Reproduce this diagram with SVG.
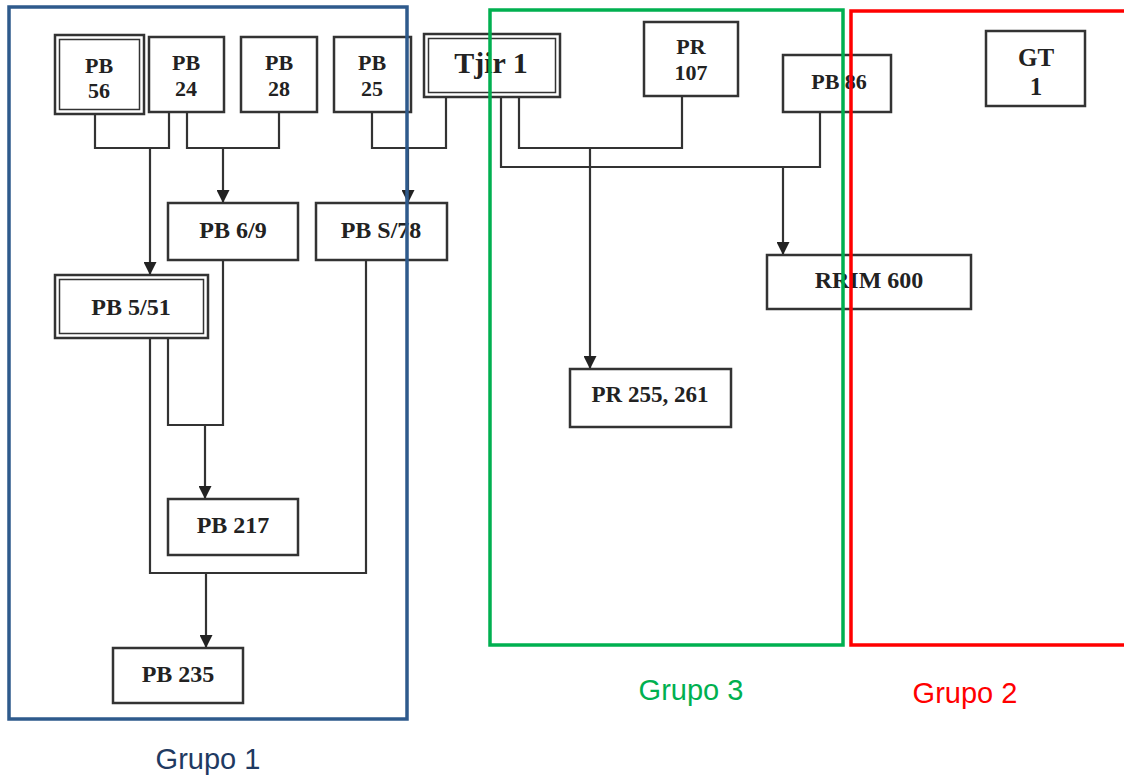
<svg xmlns="http://www.w3.org/2000/svg" width="1124" height="776" viewBox="0 0 1124 776">
<defs>
<style>
.box{fill:#fff;stroke:#333;stroke-width:2.5}
.in{fill:none;stroke:#333;stroke-width:1.5}
.t{font-family:"Liberation Serif","Times New Roman",serif;font-weight:bold;fill:#222;text-anchor:middle}
.s22{font-size:22px}.s24{font-size:24px}
.ln{fill:none;stroke:#333;stroke-width:2.2}
.ar{fill:none;stroke:#333;stroke-width:2.2;marker-end:url(#ah)}
.grp{fill:none;stroke-width:3.5}
.lbl{font-family:"Liberation Sans",Arial,sans-serif;font-size:29px;text-anchor:middle}
</style>
<marker id="ah" viewBox="0 0 12 12" refX="12" refY="6" markerWidth="13" markerHeight="13" markerUnits="userSpaceOnUse" orient="auto">
<path d="M0,0 L12,6 L0,12 z" fill="#222"/>
</marker>
</defs>
<rect width="1124" height="776" fill="#fff"/>

<g id="connectors">
<path class="ln" d="M95,114 V148 H169 V112"/>
<path class="ar" d="M150,148 V275"/>
<path class="ln" d="M187,112 V148 H279 V112"/>
<path class="ar" d="M223,148 V203"/>
<path class="ln" d="M372,112 V148 H446 V97"/>
<path class="ar" d="M408,148 V203"/>
<path class="ln" d="M519,97 V148 H682 V96"/>
<path class="ar" d="M590,148 V369"/>
<path class="ln" d="M501,97 V167 H820 V112"/>
<path class="ar" d="M783,167 V255"/>
<path class="ln" d="M168,338 V425 H223 V260"/>
<path class="ar" d="M205,425 V499"/>
<path class="ln" d="M150,338 V573 H366 V260"/>
<path class="ar" d="M206,573 V648"/>
</g>

<g id="n-pb56"><rect class="box" x="55" y="35" width="89" height="79"/><rect class="in" x="59.5" y="39.5" width="80" height="70"/><text class="t s22" x="99" y="73">PB</text><text class="t s22" x="99" y="98">56</text></g>
<g id="n-pb24"><rect class="box" x="149" y="37" width="75" height="75"/><text class="t s22" x="186" y="70">PB</text><text class="t s22" x="186" y="96">24</text></g>
<g id="n-pb28"><rect class="box" x="241" y="37" width="76" height="75"/><text class="t s22" x="279" y="70">PB</text><text class="t s22" x="279" y="96">28</text></g>
<g id="n-pb25"><rect class="box" x="334" y="37" width="77" height="75"/><text class="t s22" x="372" y="70">PB</text><text class="t s22" x="372" y="96">25</text></g>
<g id="n-tjir1"><rect class="box" x="424" y="34" width="136" height="63"/><rect class="in" x="428.5" y="38.5" width="127" height="54"/><text class="t" style="font-size:30px" x="491" y="73">Tjir 1</text></g>
<g id="n-pr107"><rect class="box" x="644" y="22" width="94" height="74"/><text class="t s22" x="691" y="54">PR</text><text class="t s22" x="691" y="80">107</text></g>
<g id="n-pb86"><rect class="box" x="783" y="55" width="108" height="57"/><text class="t s22" x="839" y="89">PB 86</text></g>
<g id="n-gt1"><rect class="box" x="986" y="31" width="99" height="75"/><text class="t" style="font-size:25px" x="1036" y="66">GT</text><text class="t" style="font-size:25px" x="1036" y="95">1</text></g>
<g id="n-pb69"><rect class="box" x="168" y="203" width="130" height="57"/><text class="t s24" x="233" y="238">PB 6/9</text></g>
<g id="n-pbs78"><rect class="box" x="316" y="203" width="131" height="57"/><text class="t s24" x="381" y="238">PB S/78</text></g>
<g id="n-pb551"><rect class="box" x="55" y="275" width="153" height="63"/><rect class="in" x="59.5" y="279.5" width="144" height="54"/><text class="t s24" x="131" y="315">PB 5/51</text></g>
<g id="n-rrim600"><rect class="box" x="767" y="255" width="204" height="54"/><text class="t s24" x="869" y="288">RRIM 600</text></g>
<g id="n-pr255"><rect class="box" x="570" y="369" width="161" height="58"/><text class="t" style="font-size:23px" x="650" y="402">PR 255, 261</text></g>
<g id="n-pb217"><rect class="box" x="168" y="499" width="130" height="56"/><text class="t s24" x="233" y="533">PB 217</text></g>
<g id="n-pb235"><rect class="box" x="113" y="648" width="130" height="55"/><text class="t s24" x="178" y="682">PB 235</text></g>

<g id="grupo1"><rect class="grp" x="9" y="7" width="398" height="712" stroke="#2E5A8C"/><text class="lbl" x="208" y="769" fill="#1F3A62">Grupo 1</text></g>
<g id="grupo3"><rect class="grp" x="490" y="10" width="353" height="635" stroke="#00B050"/><text class="lbl" x="691" y="700" fill="#00B050">Grupo 3</text></g>
<g id="grupo2"><path class="grp" d="M1126,11 H851 V645 H1126" stroke="#FF0000"/><text class="lbl" x="965" y="703" fill="#FF0000">Grupo 2</text></g>
</svg>
